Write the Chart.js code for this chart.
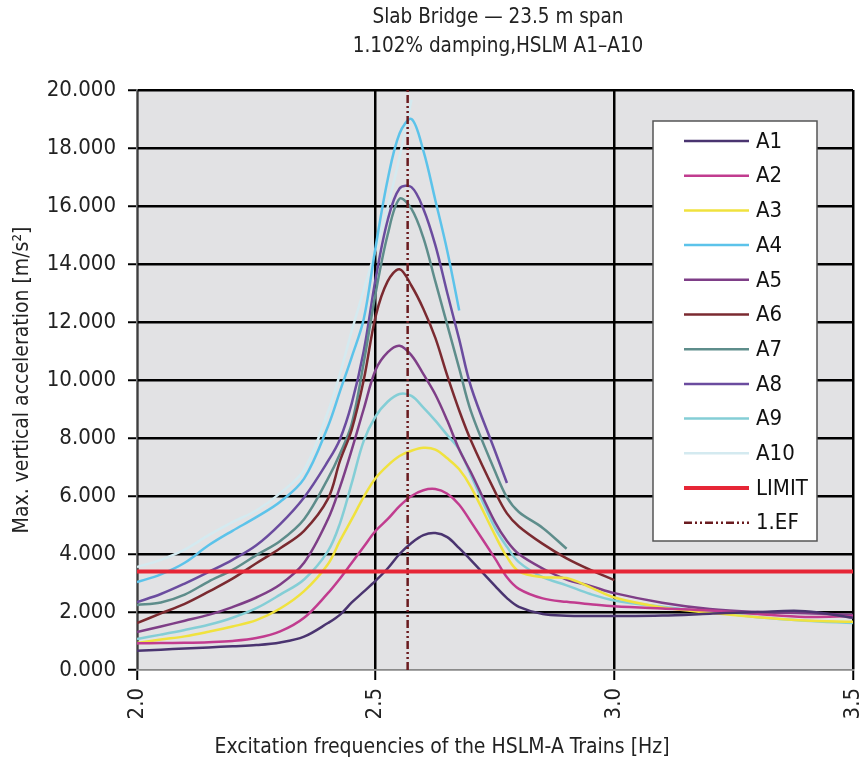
<!DOCTYPE html>
<html>
<head>
<meta charset="utf-8">
<script src="https://cdn.jsdelivr.net/npm/chart.js@4.4.1/dist/chart.umd.min.js"></script>
<style>
  html, body { margin: 0; padding: 0; background: #fff; }
</style>
</head>
<body>
<canvas id="chart" width="861" height="765"></canvas>
<script>
// Frequencies [Hz] shared by all HSLM-A train curves
const freqs = [2.00, 2.05, 2.10, 2.15, 2.20, 2.25, 2.30, 2.35, 2.40, 2.425, 2.45, 2.475, 2.50, 2.525, 2.55, 2.575,
    2.60, 2.625, 2.65, 2.675, 2.70, 2.75, 2.775, 2.80, 2.85, 2.90, 2.95, 3.00, 3.10, 3.20, 3.30, 3.40, 3.50];

// Max. vertical acceleration [m/s2] per train (null = not computed)
const accA1 = [0.66, 0.70, 0.74, 0.78, 0.82, 0.86, 0.95, 1.15, 1.62, 1.90, 2.33, 2.70, 3.08, 3.50, 4.00, 4.38,
    4.65, 4.72, 4.58, 4.20, 3.78, 2.90, 2.48, 2.18, 1.93, 1.87, 1.86, 1.86, 1.88, 1.94, 2.00, 2.03, 1.80];
const accA2 = [0.92, 0.93, 0.94, 0.96, 1.00, 1.10, 1.33, 1.80, 2.65, 3.15, 3.70, 4.25, 4.80, 5.20, 5.65, 6.00,
    6.20, 6.24, 6.08, 5.70, 5.10, 3.85, 3.20, 2.80, 2.47, 2.35, 2.27, 2.20, 2.12, 2.05, 1.93, 1.83, 1.86];
const accA3 = [0.93, 1.05, 1.16, 1.32, 1.50, 1.72, 2.12, 2.72, 3.65, 4.45, 5.20, 5.97, 6.62, 7.05, 7.38, 7.56,
    7.66, 7.60, 7.30, 6.92, 6.30, 4.65, 3.90, 3.40, 3.20, 3.17, 2.85, 2.50, 2.16, 1.97, 1.82, 1.71, 1.66];
const accA4 = [3.03, 3.30, 3.70, 4.30, 4.80, 5.27, 5.80, 6.60, 8.40, 9.60, 10.80, 12.10, 14.60, 16.90, 18.50, 19.00,
    17.90, 16.20, 14.45, 12.40, null, null, null, null, null, null, null, null, null, null, null, null, null];
const accA5 = [1.31, 1.50, 1.70, 1.90, 2.17, 2.50, 2.95, 3.70, 5.20, 6.30, 7.60, 9.00, 10.35, 10.95, 11.18, 10.85,
    10.20, 9.50, 8.60, 7.60, 6.80, 5.10, 4.45, 4.00, 3.50, 3.12, 2.90, 2.65, 2.32, 2.10, 2.00, 1.96, 1.90];
const accA6 = [1.62, 1.95, 2.28, 2.70, 3.15, 3.68, 4.20, 4.80, 5.90, 7.20, 8.30, 10.00, 12.20, 13.40, 13.82, 13.25,
    12.45, 11.45, 10.15, 8.95, 7.90, 6.15, 5.40, 4.95, 4.35, 3.85, 3.45, 3.10, null, null, null, null, null];
const accA7 = [2.24, 2.33, 2.60, 3.05, 3.45, 3.96, 4.45, 5.20, 6.60, 7.45, 8.50, 10.60, 13.00, 15.00, 16.25, 15.90,
    14.90, 13.40, 11.90, 10.40, 8.90, 6.85, 5.95, 5.45, 4.90, 4.18, null, null, null, null, null, null, null];
const accA8 = [2.34, 2.62, 2.98, 3.38, 3.80, 4.30, 5.03, 5.95, 7.20, 7.95, 9.20, 11.00, 13.50, 15.50, 16.60, 16.65,
    15.90, 14.65, 13.00, 11.40, 9.75, 7.55, 6.45, null, null, null, null, null, null, null, null, null, null];
const accA9 = [1.07, 1.22, 1.38, 1.56, 1.80, 2.13, 2.60, 3.12, 4.10, 5.05, 6.45, 7.90, 8.75, 9.25, 9.52, 9.45,
    9.05, 8.60, 8.10, 7.60, 6.70, 4.90, 4.25, 3.72, 3.20, 2.92, 2.62, 2.40, 2.18, 2.00, 1.82, 1.70, 1.62];
const accA10 = [3.55, 3.80, 4.15, 4.65, 5.10, 5.50, 6.10, 6.90, 8.90, 10.20, 11.70, 13.10, 14.50, 15.95, 17.69, 19.66,
    null, null, null, null, null, null, null, null, null, null, null, null, null, null, null, null, null];

const trainNames = ['A1', 'A2', 'A3', 'A4', 'A5', 'A6', 'A7', 'A8', 'A9', 'A10'];
const trainValues = [accA1, accA2, accA3, accA4, accA5, accA6, accA7, accA8, accA9, accA10];
const trainColors = ['#4a3470', '#c13c8f', '#f0e23e', '#5cc3ea', '#7e3e87',
    '#7b2a30', '#5e8d8b', '#6b4c9f', '#84ced6', '#d4eaf0'];

const limitValue = 3.4;        // acceleration limit [m/s2]
const firstEigenFreq = 2.567;  // 1st eigenfrequency [Hz]
const xRange = [2.0, 3.5];
const yRange = [0, 20];

const FONT = '"Liberation Sans Narrow", "DejaVu Sans Condensed", "Roboto", sans-serif';

// Build datasets
const datasets = trainNames.map((name, i) => ({
    label: name,
    data: freqs.map((f, j) => ({ x: f, y: trainValues[i][j] })),
    borderColor: trainColors[i],
    borderWidth: 2.5,
    pointRadius: 0,
    tension: 0.35,
    spanGaps: false,
    order: 1
}));

datasets.push({
    label: 'LIMIT',
    data: xRange.map(f => ({ x: f, y: limitValue })),
    borderColor: '#e62636',
    borderWidth: 4,
    pointRadius: 0,
    order: 0
});

datasets.push({
    label: '1.EF',
    data: yRange.map(v => ({ x: firstEigenFreq, y: v })),
    borderColor: '#6a1b1f',
    borderWidth: 2.5,
    borderDash: [8, 3, 2, 3, 2, 3],
    pointRadius: 0,
    order: 0
});

// Gray plot background
const plotBackground = {
    id: 'plotBackground',
    beforeDraw(chart) {
        const { ctx, chartArea: a } = chart;
        ctx.save();
        ctx.fillStyle = '#e2e2e4';
        ctx.fillRect(a.left, a.top, a.right - a.left, a.bottom - a.top);
        ctx.restore();
    }
};

// Title lines and x axis caption (positioned like the original sheet)
const captions = {
    id: 'captions',
    afterDraw(chart) {
        const ctx = chart.ctx;
        ctx.save();
        ctx.fillStyle = '#222';
        ctx.textAlign = 'center';
        ctx.textBaseline = 'middle';
        ctx.font = '20.5px ' + FONT;
        ctx.fillText('Slab Bridge \u2014 23.5 m span', 498, 18);
        ctx.fillText('1.102% damping,HSLM A1\u2013A10', 498, 47);
        ctx.font = '21px ' + FONT;
        ctx.fillText('Excitation frequencies of the HSLM-A Trains [Hz]', 442, 748);
        ctx.restore();
    }
};

// Boxed legend inside the plot
const boxLegend = {
    id: 'boxLegend',
    afterDraw(chart) {
        const ctx = chart.ctx;
        const box = { left: 653, top: 121, right: 817, bottom: 541 };
        ctx.save();
        ctx.fillStyle = '#fff';
        ctx.fillRect(box.left, box.top, box.right - box.left, box.bottom - box.top);
        ctx.strokeStyle = '#555';
        ctx.lineWidth = 1.5;
        ctx.strokeRect(box.left, box.top, box.right - box.left, box.bottom - box.top);

        ctx.font = '22px ' + FONT;
        ctx.textAlign = 'left';
        ctx.textBaseline = 'middle';
        chart.data.datasets.forEach((ds, i) => {
            const y = 141 + i * 34.7;
            ctx.beginPath();
            ctx.strokeStyle = ds.borderColor;
            ctx.lineWidth = ds.borderWidth;
            ctx.setLineDash(ds.borderDash || []);
            ctx.moveTo(684, y);
            ctx.lineTo(749, y);
            ctx.stroke();
            ctx.setLineDash([]);
            ctx.fillStyle = '#111';
            ctx.fillText(ds.label, 756, y + 1);
        });
        ctx.restore();
    }
};

new Chart(document.getElementById('chart'), {
    type: 'line',
    data: { datasets },
    options: {
        responsive: false,
        devicePixelRatio: 1,
        animation: false,
        layout: { padding: { top: 90, right: 8, left: 0, bottom: 0 } },
        plugins: {
            legend: { display: false },
            title: { display: false },
            tooltip: { enabled: false }
        },
        scales: {
            x: {
                type: 'linear',
                min: xRange[0],
                max: xRange[1],
                afterFit: s => { s.height = 95; s.paddingLeft = 0; s.paddingRight = 0; },
                ticks: {
                    stepSize: 0.5,
                    minRotation: 90,
                    maxRotation: 90,
                    autoSkip: false,
                    padding: 8,
                    color: '#222',
                    font: { family: FONT, size: 22 },
                    callback: v => Number(v).toFixed(1)
                },
                grid: {
                    color: '#000',
                    lineWidth: 2.5,
                    tickLength: 10,
                    tickColor: '#000',
                    tickWidth: 2
                },
                border: { color: '#8a8a8a', width: 1.5 }
            },
            y: {
                min: yRange[0],
                max: yRange[1],
                afterFit: s => { s.width = 137; s.paddingTop = 0; s.paddingBottom = 0; },
                ticks: {
                    stepSize: 2,
                    padding: 12,
                    color: '#222',
                    font: { family: FONT, size: 22 },
                    callback: v => Number(v).toFixed(3)
                },
                grid: {
                    color: c => (c.tick && c.tick.value === 0 ? '#8a8a8a' : '#000'),
                    lineWidth: c => (c.tick && c.tick.value === 0 ? 1.5 : 2.5),
                    tickLength: 9,
                    tickColor: '#000',
                    tickWidth: 2
                },
                border: { color: '#7a7a7a', width: 1.5 },
                title: {
                    display: true,
                    text: 'Max. vertical acceleration [m/s\u00b2]',
                    color: '#222',
                    font: { family: FONT, size: 21 },
                    padding: { top: 10, bottom: 0 }
                }
            }
        }
    },
    plugins: [plotBackground, captions, boxLegend]
});
</script>
</body>
</html>
